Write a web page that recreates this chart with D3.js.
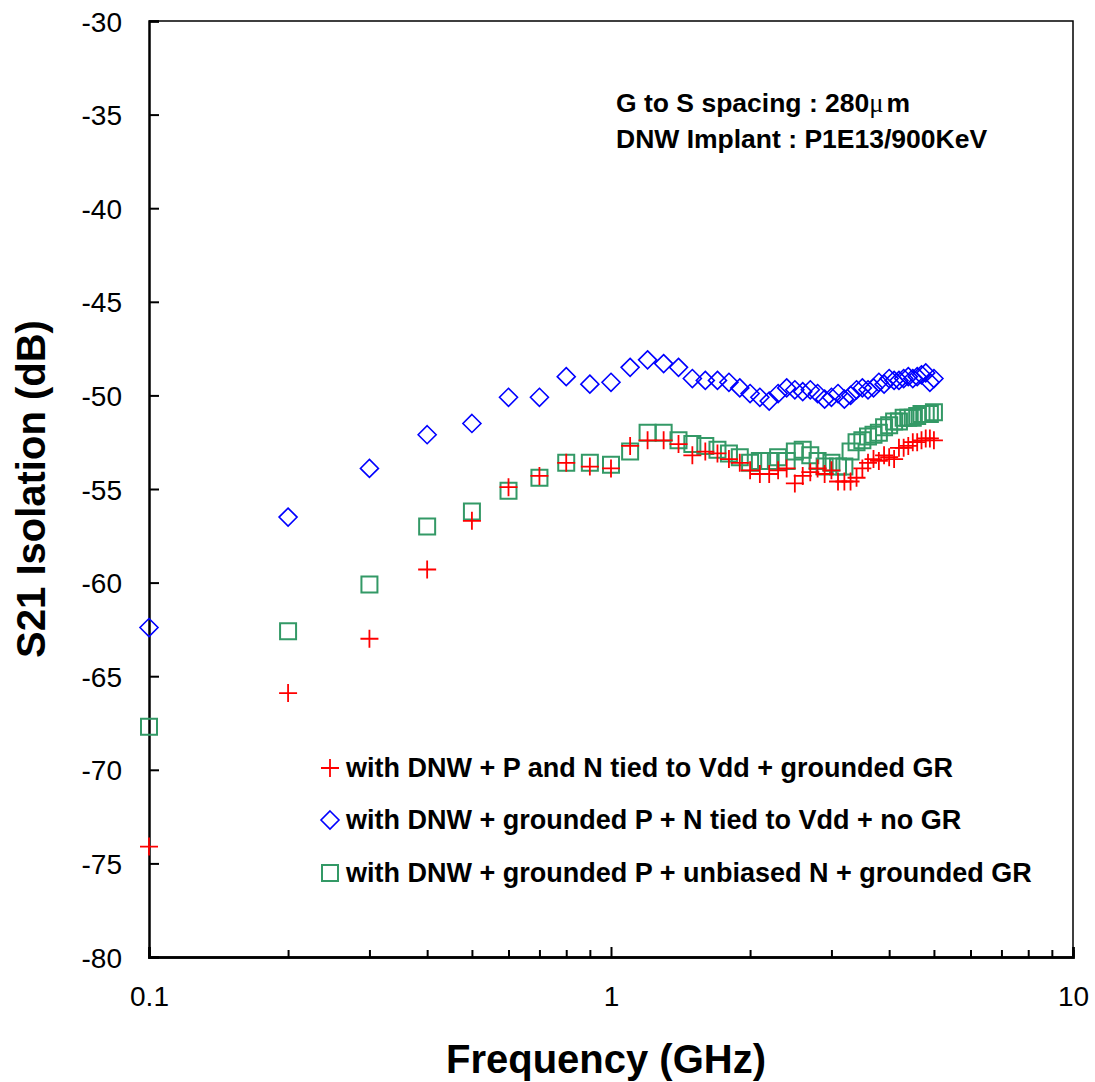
<!DOCTYPE html>
<html>
<head>
<meta charset="utf-8">
<script src="https://cdnjs.cloudflare.com/ajax/libs/d3/7.8.5/d3.min.js"></script>
<style>
  body { margin: 0; background: #fff; }
  svg text { font-family: Arial, "Liberation Sans", sans-serif; }
</style>
</head>
<body>
<div id="vis"></div>
<script>
// frequency points (GHz)
const freq = [0.1, 0.2, 0.3, 0.4, 0.5, 0.6, 0.7, 0.8, 0.9, 1.0,
  1.1, 1.2, 1.3, 1.4, 1.5, 1.6, 1.7, 1.8, 1.9, 2.0,
  2.1, 2.2, 2.3, 2.4, 2.5, 2.6, 2.7, 2.8, 2.9, 3.0,
  3.1, 3.2, 3.3, 3.4, 3.5, 3.6, 3.7, 3.8, 3.9, 4.0,
  4.1, 4.2, 4.3, 4.4, 4.5, 4.6, 4.7, 4.8, 4.9, 5.0];

// with DNW + P and N tied to Vdd + grounded GR
const tiedVdd = [-74.1, -65.9, -63.0, -59.3, -56.7, -54.9, -54.3, -53.6, -53.8, -53.9,
  -52.7, -52.4, -52.4, -52.6, -53.2, -53.0, -53.1, -53.4, -53.6, -54.0,
  -54.2, -54.2, -54.0, -53.9, -54.7, -54.3, -54.1, -53.9, -54.2, -54.0,
  -54.6, -54.6, -54.6, -54.4, -53.9, -53.6, -53.4, -53.5, -53.2, -53.3,
  -53.4, -52.8, -52.8, -52.7, -52.5, -52.5, -52.4, -52.3, -52.3, -52.4];

// with DNW + grounded P + N tied to Vdd + no GR
const noGR = [-62.4, -56.5, -53.9, -52.1, -51.5, -50.1, -50.1, -49.0, -49.4, -49.3,
  -48.5, -48.1, -48.3, -48.5, -49.1, -49.2, -49.2, -49.3, -49.6, -49.9,
  -50.1, -50.3, -49.9, -49.6, -49.7, -49.8, -49.7, -49.9, -50.2, -50.1,
  -49.9, -50.2, -50.0, -49.7, -49.6, -49.7, -49.6, -49.3, -49.4, -49.1,
  -49.2, -49.2, -49.1, -49.0, -49.1, -49.0, -48.9, -48.8, -49.3, -49.1];

// with DNW + grounded P + unbiased N + grounded GR
const unbiased = [-67.7, -62.6, -60.1, -57.0, -56.2, -55.1, -54.4, -53.6, -53.6, -53.7,
  -53.0, -52.0, -52.0, -52.4, -52.6, -52.7, -52.9, -53.1, -53.3, -53.6,
  -53.5, -53.5, -53.3, -53.5, -53.0, -52.9, -53.2, -53.5, -53.8, -53.6,
  -53.8, -53.8, -53.0, -52.5, -52.4, -52.2, -52.1, -52.0, -51.7, -51.6,
  -51.4, -51.4, -51.2, -51.2, -51.2, -51.1, -51.0, -51.0, -51.0, -50.9];

const legendLabels = [
  "with DNW + P and N tied to Vdd + grounded GR",
  "with DNW + grounded P + N tied to Vdd + no GR",
  "with DNW + grounded P + unbiased N + grounded GR"
];
const yTicks = [-80, -75, -70, -65, -60, -55, -50, -45, -40, -35, -30];
const xMajor = [0.1, 1, 10];
const xMinor = [0.2, 0.3, 0.4, 0.5, 0.6, 0.7, 0.8, 0.9, 2, 3, 4, 5, 6, 7, 8, 9];

const W = 1095, H = 1082;
const svg = d3.select("#vis").append("svg").attr("width", W).attr("height", H);

const x = d3.scaleLog().domain([0.1, 10]).range([149, 1073]);
const y = d3.scaleLinear().domain([-80, -30]).range([957, 21]);

// plot frame (top / right)
svg.append("path")
  .attr("d", `M${x(0.1)},${y(-30)}H${x(10)}V${y(-80)}`)
  .attr("fill", "none").attr("stroke", "#000").attr("stroke-width", 1.5);

const yAxis = svg.append("g").attr("transform", `translate(${x(0.1)},0)`)
  .call(d3.axisLeft(y).tickValues(yTicks).tickSize(-10).tickPadding(27).tickFormat(d => String(d)));
const xAxis = svg.append("g").attr("transform", `translate(0,${y(-80)})`)
  .call(d3.axisBottom(x).tickValues(xMajor).tickSize(-10).tickPadding(29).tickFormat(d => String(d)));
svg.append("g").attr("transform", `translate(0,${y(-80)})`)
  .call(d3.axisBottom(x).tickValues(xMinor).tickSize(-7).tickFormat(""));

svg.selectAll(".domain").attr("stroke", "#000").attr("stroke-width", 2.5);
svg.selectAll(".tick line").attr("stroke", "#000").attr("stroke-width", 2);
svg.selectAll(".tick text").attr("font-size", 28).attr("fill", "#000")
  .attr("font-family", "Arial, 'Liberation Sans', sans-serif");
yAxis.selectAll(".tick text").attr("dy", "0.36em");

// marker shapes
const crossPath = "M-9,0H9M0,-9V9";
const diamondPath = "M0,-9L9,0L0,9L-9,0Z";
const squarePath = "M-8,-8H8V8H-8Z";

const series = [
  { vals: noGR, path: diamondPath, color: "#0000ff", sw: 1.6 },
  { vals: unbiased, path: squarePath, color: "#339966", sw: 2 },
  { vals: tiedVdd, path: crossPath, color: "#ff0000", sw: 1.8 }
];

series.forEach(s => {
  svg.append("g").selectAll("path")
    .data(freq.map((f, i) => [f, s.vals[i]]))
    .join("path")
    .attr("d", s.path)
    .attr("transform", d => `translate(${x(d[0])},${y(d[1])})`)
    .attr("fill", "none")
    .attr("stroke", s.color)
    .attr("stroke-width", s.sw);
});

// legend
const legend = [
  { path: crossPath, color: "#ff0000", sw: 1.8 },
  { path: diamondPath, color: "#0000ff", sw: 1.6 },
  { path: squarePath, color: "#339966", sw: 2 }
];
const legY = [768, 820, 873];
legend.forEach((l, i) => {
  svg.append("path").attr("d", l.path)
    .attr("transform", `translate(330,${legY[i]})`)
    .attr("fill", "none").attr("stroke", l.color).attr("stroke-width", l.sw);
  svg.append("text").attr("x", 346).attr("y", legY[i] + 9)
    .attr("font-size", 27).attr("font-weight", "bold")
    .text(legendLabels[i]);
});

// annotation
const ann1 = svg.append("text").attr("x", 616).attr("y", 112)
  .attr("font-size", 26.5).attr("font-weight", "bold");
ann1.append("tspan").text("G to S spacing : 280");
ann1.append("tspan").attr("font-weight", "normal")
  .attr("font-family", "'Liberation Serif', 'DejaVu Serif', serif").text("\u03bc");
ann1.append("tspan").attr("dx", 3).text("m");
svg.append("text").attr("x", 616).attr("y", 148)
  .attr("font-size", 26.5).attr("font-weight", "bold")
  .text("DNW Implant : P1E13/900KeV");

// axis titles
svg.append("text").attr("x", 606).attr("y", 1073)
  .attr("text-anchor", "middle").attr("font-size", 40).attr("font-weight", "bold")
  .text("Frequency (GHz)");
svg.append("text").attr("transform", "translate(45,489) rotate(-90)")
  .attr("text-anchor", "middle").attr("font-size", 40).attr("font-weight", "bold")
  .text("S21 Isolation (dB)");
</script>
</body>
</html>
